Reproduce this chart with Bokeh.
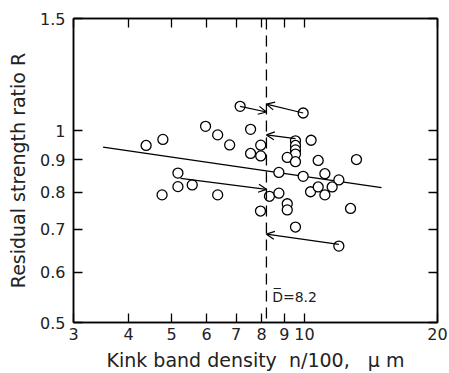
from bokeh.plotting import figure
from bokeh.models import (Arrow, OpenHead, Span, LogAxis, FixedTicker,
                          CustomJSTickFormatter, ColumnDataSource, Label, Range1d)
from bokeh.embed import file_html
from bokeh.resources import INLINE

# ---- data ----
density = [4.38, 4.78, 5.97, 6.36, 5.17, 5.17, 5.57, 4.76, 7.15, 6.77,
           7.55, 7.96, 7.55, 7.96, 8.75, 6.36, 8.33, 8.75, 9.14, 9.14,
           7.95, 9.54, 9.93, 9.54, 9.54, 9.54, 9.54, 9.14, 9.54, 10.35,
           10.74, 13.11, 9.93, 11.12, 11.96, 10.32, 10.74, 11.12, 11.55, 12.71,
           11.96]
ratio = [0.948, 0.969, 1.016, 0.985, 0.858, 0.817, 0.822, 0.793, 1.092, 0.950,
         1.005, 0.949, 0.921, 0.913, 0.860, 0.793, 0.789, 0.798, 0.768, 0.751,
         0.748, 0.706, 1.066, 0.964, 0.948, 0.933, 0.919, 0.908, 0.894, 0.966,
         0.898, 0.901, 0.848, 0.856, 0.837, 0.802, 0.816, 0.793, 0.816, 0.755,
         0.659]

fit_x = [3.50, 14.94]
fit_y = [0.942, 0.814]

arrow_x0 = [7.15, 9.93, 9.54, 5.24, 11.96]
arrow_y0 = [1.092, 1.066, 0.972, 0.842, 0.663]
arrow_x1 = [8.2, 8.2, 8.2, 8.2, 8.2]
arrow_y1 = [1.070, 1.101, 0.985, 0.809, 0.688]

mean_density = 8.2

x_ticks = [3, 4, 5, 6, 7, 8, 9, 10, 20]
x_tick_labels = ["3", "4", "5", "6", "7", "8", "9", "10", "20"]
y_ticks = [0.5, 0.6, 0.7, 0.8, 0.9, 1, 1.5]
y_tick_labels = ["0.5", "0.6", "0.7", "0.8", "0.9", "1", "1.5"]

# ---- figure ----
p = figure(width=449, height=373, x_axis_type="log", y_axis_type="log",
           x_range=Range1d(3, 20), y_range=Range1d(0.5, 1.5),
           output_backend="svg", toolbar_location=None,
           min_border_left=73, min_border_right=12,
           min_border_top=18, min_border_bottom=51,
           background_fill_color="white", border_fill_color="white",
           outline_line_color="black", outline_line_width=1.5)
p.grid.visible = False

fmt_code = """
for (let i = 0; i < vals.length; i++) {
  if (Math.abs(vals[i] - tick) < 1e-9) return labs[i];
}
return "";
"""

def style_axis(ax, ticks, labels, show_labels=True):
    ax.ticker = FixedTicker(ticks=ticks)
    ax.major_tick_in = 9
    ax.major_tick_out = 0
    ax.major_tick_line_color = "black"
    ax.major_tick_line_width = 1.3
    ax.minor_tick_line_color = None
    ax.axis_line_color = "black"
    ax.axis_line_width = 1.5
    if show_labels:
        ax.formatter = CustomJSTickFormatter(args=dict(vals=ticks, labs=labels), code=fmt_code)
        ax.major_label_text_font = "DejaVu Sans"
        ax.major_label_text_font_size = "16px"
        ax.major_label_text_color = "#222222"
    else:
        ax.formatter = CustomJSTickFormatter(code='return "";')
        ax.major_label_text_color = None
        ax.major_label_text_font_size = "1px"
        ax.major_label_standoff = 0

style_axis(p.xaxis[0], x_ticks, x_tick_labels)
style_axis(p.yaxis[0], y_ticks, y_tick_labels)
p.xaxis[0].major_label_standoff = 5
p.yaxis[0].major_label_standoff = 8

for ax in (p.xaxis[0], p.yaxis[0]):
    ax.axis_label_text_font = "DejaVu Sans"
    ax.axis_label_text_font_size = "19px"
    ax.axis_label_text_font_style = "normal"
    ax.axis_label_text_color = "#222222"

p.xaxis[0].axis_label = "Kink band density\u00a0\u00a0n/100,\u00a0\u00a0\u00a0\u03bc\u00a0m"
p.xaxis[0].axis_label_standoff = 6
p.yaxis[0].axis_label = "Residual strength ratio R"
p.yaxis[0].axis_label_standoff = 8

top_ax = LogAxis()
style_axis(top_ax, x_ticks, x_tick_labels, show_labels=False)
p.add_layout(top_ax, "above")
right_ax = LogAxis()
style_axis(right_ax, y_ticks, y_tick_labels, show_labels=False)
p.add_layout(right_ax, "right")

# mean density dashed line
p.add_layout(Span(location=mean_density, dimension="height",
                  line_color="black", line_width=1.3, line_dash="11 6"))

# fitted line
p.line(fit_x, fit_y, line_color="black", line_width=1.3)

# arrows
asrc = ColumnDataSource(dict(x0=arrow_x0, y0=arrow_y0, x1=arrow_x1, y1=arrow_y1))
p.add_layout(Arrow(source=asrc, x_start="x0", y_start="y0", x_end="x1", y_end="y1",
                   line_color="black", line_width=1.2,
                   end=OpenHead(size=8, line_color="black", line_width=1.2)))

# data points
src = ColumnDataSource(dict(x=density, y=ratio))
p.scatter("x", "y", source=src, marker="circle", size=10,
          fill_color="white", line_color="black", line_width=1.3)

p.add_layout(Label(x=8.45, y=0.549, text="D\u0305=8.2",
                   text_font="DejaVu Sans", text_font_size="14px",
                   text_color="#222222", text_baseline="alphabetic"))

open("out.html", "w").write(file_html(p, INLINE))
